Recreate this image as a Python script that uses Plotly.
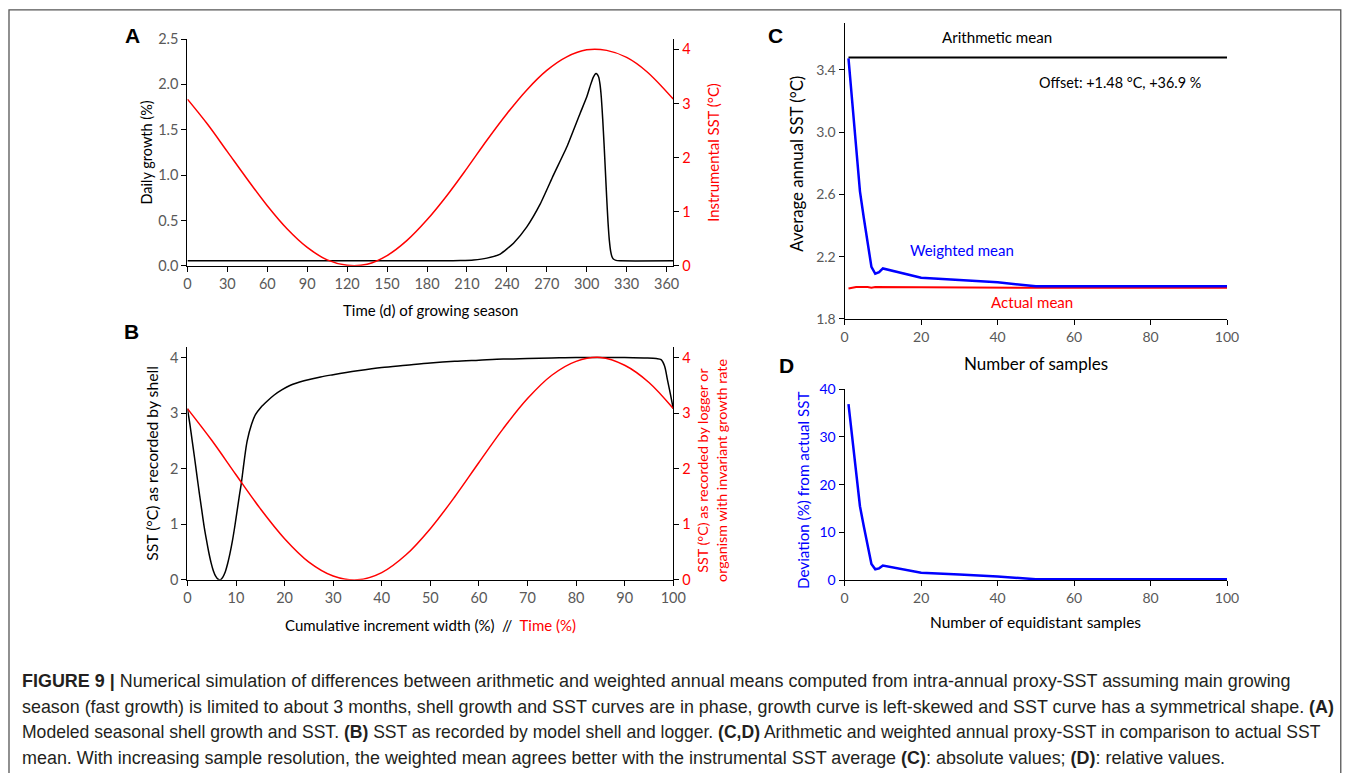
import plotly.graph_objects as go

# figure is a little larger than the window so that it reaches the right/bottom edge of the capture
W, H = 1372, 792
# measured mapping of page pixels to the captured picture: q = S*p + O
SX, OX = 0.988, 3.0
SY, OY = 0.978, 9.0

# ---------------- data ----------------
# Panel A: daily growth (%) vs day
growth_day = [0, 195, 205, 215, 225, 235, 245, 255, 265, 275, 285, 295, 300, 303, 305, 307, 308,
              309, 310, 311, 312, 313, 314, 315, 316, 317, 318, 319, 320, 322, 325, 365]
growth_pct = [0.055, 0.055, 0.058, 0.065, 0.085, 0.13, 0.25, 0.43, 0.68, 1.0, 1.31, 1.68, 1.86, 2.0, 2.08, 2.12, 2.11,
              2.08, 2.0, 1.85, 1.62, 1.35, 1.05, 0.75, 0.48, 0.28, 0.16, 0.1, 0.075, 0.06, 0.055, 0.055]
# Panel A: instrumental SST vs day
sst_day = [0, 15, 30, 45, 60, 75, 90, 105, 120, 135, 150, 165, 180, 195, 210, 225, 240, 255, 270, 285,
           300, 315, 330, 345, 365]
sst_val = [3.08, 2.62, 2.11, 1.60, 1.11, 0.68, 0.34, 0.11, 0.01, 0.03, 0.19, 0.47, 0.85, 1.30, 1.80, 2.32,
           2.81, 3.25, 3.61, 3.86, 3.99, 3.98, 3.85, 3.59, 3.08]

# Panel B: SST recorded by shell vs cumulative increment width (%)
shell_x = [0, 0.49, 0.97, 1.46, 1.95, 2.43, 2.92, 3.40, 3.89, 4.38, 4.86, 5.35, 5.84, 6.32, 6.81, 7.29,
           7.78, 8.27, 8.75, 9.24, 9.73, 10.21, 10.70, 11.1, 11.7, 12.3, 13.2, 14.0, 15.1, 16.5, 17.8, 19.5,
           21.2, 24, 27.4, 30, 35, 40, 45, 50, 55, 60, 65, 70, 75, 80, 85, 90, 94, 96.5, 97.5, 98.2, 98.8,
           99.4, 100]
shell_sst = [3.08, 2.81, 2.51, 2.20, 1.88, 1.57, 1.27, 0.98, 0.73, 0.50, 0.31, 0.16, 0.06, 0.01, 0.00, 0.05,
             0.14, 0.29, 0.47, 0.69, 0.95, 1.23, 1.52, 1.74, 2.15, 2.50, 2.80, 2.97, 3.10, 3.22, 3.32, 3.42,
             3.50, 3.58, 3.65, 3.69, 3.76, 3.82, 3.86, 3.90, 3.93, 3.95, 3.97, 3.98, 3.99, 4.0, 4.0, 4.0, 3.99,
             3.98, 3.96, 3.85, 3.6, 3.35, 3.08]
# Panel B: SST recorded by logger vs time (%)
logger_x = [0, 5, 10, 15, 20, 25, 30, 35, 40, 45, 50, 55, 60, 65, 70, 75, 80, 85, 90, 95, 100]
logger_sst = [3.08, 2.51, 1.89, 1.28, 0.74, 0.32, 0.07, 0.00, 0.13, 0.45, 0.92, 1.49, 2.11, 2.72, 3.26,
              3.68, 3.93, 4.00, 3.86, 3.55, 3.08]

# Panel C: annual means vs number of samples
n_samples = [1, 2, 3, 4, 5, 6, 7, 8, 9, 10, 20, 30, 40, 50, 60, 70, 80, 90, 100]
weighted_mean = [3.475, 3.18, 2.89, 2.62, 2.45, 2.29, 2.134, 2.09, 2.10, 2.124, 2.064, 2.05, 2.035, 2.01,
                 2.01, 2.01, 2.01, 2.01, 2.01]
arith_x = [1, 100]
arith_mean = [3.48, 3.48]
actual_x = [1, 3, 6, 7, 8, 10, 20, 50, 100]
actual_mean = [1.995, 2.005, 2.005, 2.0, 2.005, 2.004, 2.003, 2.0, 2.0]

# Panel D: deviation (%) from actual SST
deviation = [36.9, 29.5, 22.3, 15.5, 11.3, 7.3, 3.4, 2.3, 2.5, 3.1, 1.6, 1.2, 0.8, 0.2, 0.2, 0.2, 0.2, 0.2, 0.2]

a_xticks = [0, 30, 60, 90, 120, 150, 180, 210, 240, 270, 300, 330, 360]
a_yticks = [0.0, 0.5, 1.0, 1.5, 2.0, 2.5]
sst_ticks = [0, 1, 2, 3, 4]
pct_ticks = [0, 10, 20, 30, 40, 50, 60, 70, 80, 90, 100]
c_yticks = [1.8, 2.2, 2.6, 3.0, 3.4]
c_xticks = [0, 20, 40, 60, 80, 100]
d_yticks = [0, 10, 20, 30, 40]

caption_lines = [
    "<b>FIGURE 9 |</b> Numerical simulation of differences between arithmetic and weighted annual means computed from intra-annual proxy-SST assuming main growing",
    "season (fast growth) is limited to about 3 months, shell growth and SST curves are in phase, growth curve is left-skewed and SST curve has a symmetrical shape. <b>(A)</b>",
    "Modeled seasonal shell growth and SST. <b>(B)</b> SST as recorded by model shell and logger. <b>(C,D)</b> Arithmetic and weighted annual proxy-SST in comparison to actual SST",
    "mean. With increasing sample resolution, the weighted mean agrees better with the instrumental SST average <b>(C)</b>: absolute values; <b>(D)</b>: relative values.",
]
caption_sizes = [17.95, 17.9, 17.56, 17.95]

# ---------------- helpers (picture pixel -> paper fraction) ----------------
def px_x(q):
    p = (q - OX) / SX
    return min(max(p / W, 0.0), 1.0)

def px_y(q):
    p = (q - OY) / SY
    return min(max(1 - p / H, 0.0), 1.0)

FONT = "Lato"
GREY = "#595959"
RED = "#ff0000"
BLUE = "#0000ff"

fig = go.Figure()

# Panel A
fig.add_trace(go.Scatter(x=growth_day, y=growth_pct, mode="lines",
                         line=dict(color="black", width=1.5, shape="spline", smoothing=0.5),
                         xaxis="x", yaxis="y"))
fig.add_trace(go.Scatter(x=sst_day, y=sst_val, mode="lines", line=dict(color=RED, width=1.5, shape="spline"),
                         xaxis="x", yaxis="y2"))
# Panel B
fig.add_trace(go.Scatter(x=shell_x, y=shell_sst, mode="lines",
                         line=dict(color="black", width=1.5, shape="spline", smoothing=0.9),
                         xaxis="x2", yaxis="y3"))
fig.add_trace(go.Scatter(x=logger_x, y=logger_sst, mode="lines", line=dict(color=RED, width=1.5, shape="spline"),
                         xaxis="x2", yaxis="y4"))
# Panel C
fig.add_trace(go.Scatter(x=arith_x, y=arith_mean, mode="lines", line=dict(color="black", width=2),
                         xaxis="x3", yaxis="y5"))
fig.add_trace(go.Scatter(x=actual_x, y=actual_mean, mode="lines", line=dict(color=RED, width=2),
                         xaxis="x3", yaxis="y5"))
fig.add_trace(go.Scatter(x=n_samples, y=weighted_mean, mode="lines", line=dict(color=BLUE, width=2.5),
                         xaxis="x3", yaxis="y5"))
# Panel D
fig.add_trace(go.Scatter(x=n_samples, y=deviation, mode="lines", line=dict(color=BLUE, width=2.5),
                         xaxis="x4", yaxis="y6"))

def axis(**kw):
    base = dict(showline=True, linecolor="black", linewidth=1.3, ticks="outside", ticklen=5,
                tickcolor="black", tickwidth=1.2, showgrid=False, zeroline=False,
                tickfont=dict(family=FONT, size=14.5, color=GREY), fixedrange=True)
    base.update(kw)
    return base

A_X = [px_x(186.5), px_x(672.5)]
A_Y = [px_y(265.7), px_y(39)]
B_Y = [px_y(579.5), px_y(346.7)]
C_X = [px_x(844), px_x(1226.5)]
C_Y = [px_y(318.7), px_y(23.3)]
D_Y = [px_y(580), px_y(389)]

CFONT = dict(family=FONT, size=14, color=GREY)

fig.update_layout(
    width=W, height=H, margin=dict(l=0, r=0, t=0, b=0),
    paper_bgcolor="white", plot_bgcolor="rgba(0,0,0,0)", showlegend=False,
    xaxis=axis(domain=A_X, range=[0, 365], tickvals=a_xticks, anchor="y"),
    yaxis=axis(domain=A_Y, range=[0, 2.5], tickvals=a_yticks, tickformat=".1f", anchor="x"),
    yaxis2=axis(domain=A_Y, range=[0, 4.19], tickvals=sst_ticks, overlaying="y", side="right", anchor="x",
                tickfont=dict(family=FONT, size=14.5, color=RED)),
    xaxis2=axis(domain=A_X, range=[0, 100], tickvals=pct_ticks, anchor="y3"),
    yaxis3=axis(domain=B_Y, range=[0, 4.19], tickvals=sst_ticks, anchor="x2"),
    yaxis4=axis(domain=B_Y, range=[0, 4.19], tickvals=sst_ticks, overlaying="y3", side="right", anchor="x2",
                tickfont=dict(family=FONT, size=14.5, color=RED)),
    xaxis3=axis(domain=C_X, range=[0, 100], tickvals=c_xticks, anchor="y5", tickfont=CFONT),
    yaxis5=axis(domain=C_Y, range=[1.8, 3.7], tickvals=c_yticks, tickformat=".1f", anchor="x3", tickfont=CFONT),
    xaxis4=axis(domain=C_X, range=[0, 100], tickvals=c_xticks, anchor="y6", tickfont=CFONT),
    yaxis6=axis(domain=D_Y, range=[0, 40], tickvals=d_yticks, anchor="x4",
                tickfont=dict(family=FONT, size=14, color=BLUE)),
)

def ann(text, x, y, size=14, color="black", angle=0, bold=False, family=FONT, xanchor="center", yanchor="middle"):
    fig.add_annotation(text=("<b>%s</b>" % text) if bold else text, x=px_x(x), y=px_y(y), xref="paper", yref="paper",
                       showarrow=False, textangle=angle, xanchor=xanchor, yanchor=yanchor,
                       font=dict(family=family, size=size, color=color))

# panel letters
ann("A", 132, 35, size=21, bold=True, family="Liberation Sans")
ann("B", 131, 331, size=21, bold=True, family="Liberation Sans")
ann("C", 775, 35, size=21, bold=True, family="Liberation Sans")
ann("D", 786, 365, size=21, bold=True, family="Liberation Sans")

# axis titles A
ann("Daily growth (%)", 145.5, 152, size=14.5, angle=-90)
ann("Instrumental SST (°C)", 712, 152, size=14.9, angle=-90, color=RED)
ann("Time (d) of growing season", 429.5, 310, size=15)
# axis titles B
ann("SST (°C) as recorded by shell", 151.5, 463, size=15.7, angle=-90)
ann("SST (°C) as recorded by logger or<br>organism with invariant growth rate", 712, 470, size=14.3, angle=-90, color=RED)
ann("Cumulative increment width (%)\u00a0\u00a0//\u00a0\u00a0<span style='color:#ff0000'>Time (%)</span>", 429.5, 625, size=15)
# C
ann("Average annual SST (°C)", 795, 164, size=16.8, angle=-90)
ann("Number of samples", 1035, 363, size=17)
ann("Arithmetic mean", 996.7, 37.3, size=15.1)
ann("Offset: +1.48 °C, +36.9 %", 1119, 82.7, size=14.4)
ann("Weighted mean", 961, 250, size=15, color=BLUE)
ann("Actual mean", 1031.5, 301.7, size=15.1, color=RED)
# D
ann("Deviation (%) from actual SST", 803, 490, size=15.2, angle=-90, color=BLUE)
ann("Number of equidistant samples", 1035, 621.7, size=15.5)

# caption
for i, (line, sz) in enumerate(zip(caption_lines, caption_sizes)):
    ann(line, 19, 681 + i * 25.4, size=sz, color="#231f20", family="Liberation Sans", xanchor="left")

# outer frame (right side placed at the visible edge of the window)
fig.add_shape(type="rect", xref="paper", yref="paper", x0=px_x(8), x1=px_x(1340.3), y0=0.999, y1=-0.05,
              line=dict(color="#555555", width=1.3), fillcolor="rgba(0,0,0,0)", layer="below")

fig.write_html(
    "out.html",
    config={"displayModeBar": False},
    post_script=(
        "document.documentElement.style.margin='0';document.documentElement.style.padding='0';"
        "document.documentElement.style.overflow='hidden';"
        "document.body.style.margin='0';document.body.style.padding='0';document.body.style.overflow='hidden';"
    ),
)
